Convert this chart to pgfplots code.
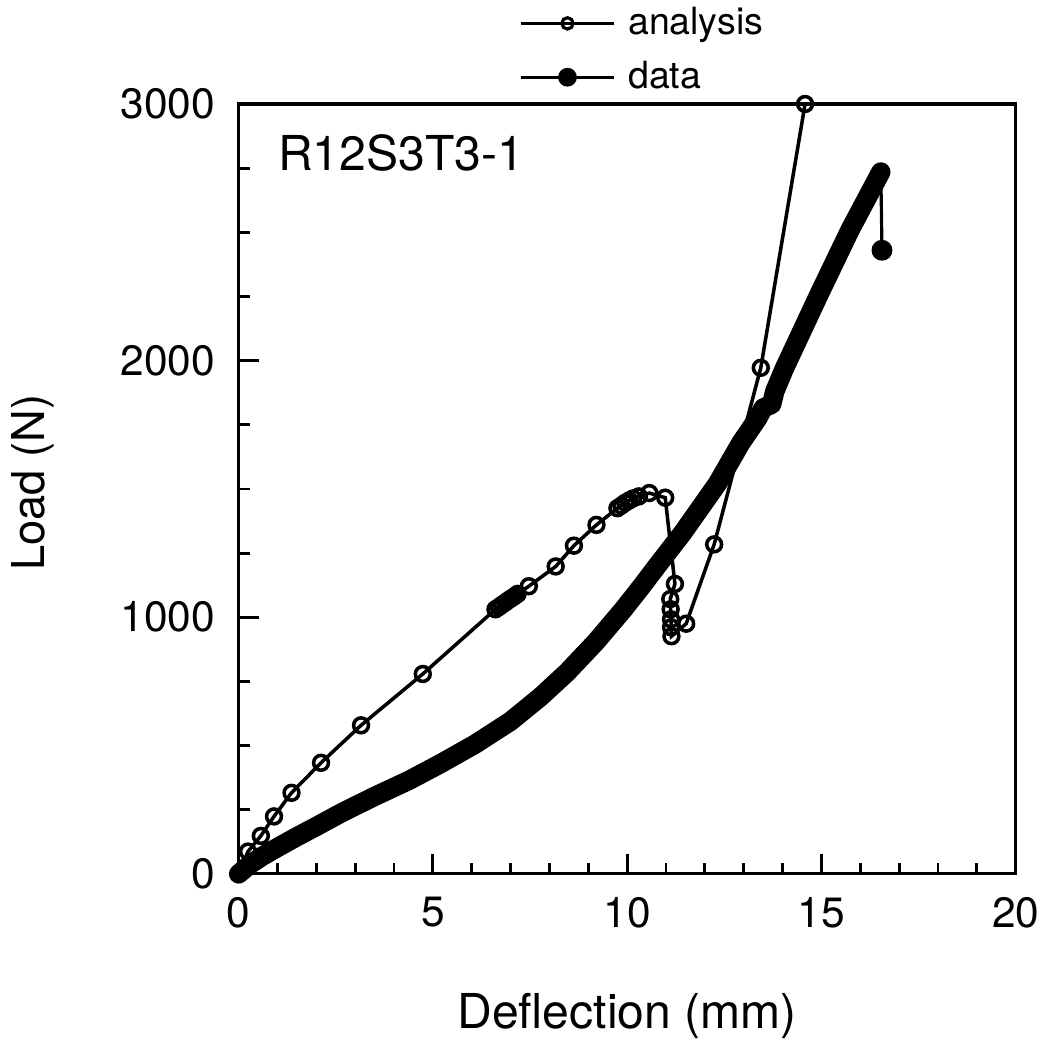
\documentclass[border=0pt]{standalone}
\usepackage{pgfplots}
\pgfplotsset{compat=1.18}
\usepackage{fontspec}
\setmainfont{TeX Gyre Heros}
\begin{document}
\begin{tikzpicture}
\begin{axis}[
  scale only axis, width=7.72cm, height=7.65cm,
  xmin=0, xmax=20, ymin=0, ymax=3000,
  xtick={0,5,10,15,20}, ytick={0,1000,2000,3000},
  minor x tick num=4, minor y tick num=3,
  tick align=inside, xtick pos=bottom, ytick pos=left,
  major tick length=0.2cm, minor tick length=0.11cm,
  every tick/.style={black, line width=0.8pt},
  axis line style={line width=0.9pt},
  /pgf/number format/assume math mode=true,
  /pgf/number format/1000 sep={},
  ticklabel style={font=\fontsize{12}{14}\selectfont},
  xticklabel style={yshift=-0.11cm},
  yticklabel style={xshift=-0.11cm},
  xlabel={Deflection (mm)}, ylabel={Load (N)},
  xlabel style={font=\fontsize{13.6}{16}\selectfont, at={(axis description cs:0.5,-0.201)}, anchor=base},
  ylabel style={font=\fontsize{12.8}{15}\selectfont, at={(axis description cs:-0.2646,0.508)}, anchor=center},
  legend cell align=left,
  legend style={at={(axis description cs:0.36,1.136)}, anchor=north west, draw=none, fill=none, font=\fontsize{10.6}{12.5}\selectfont, inner sep=0pt, row sep=2pt, column sep=1.5pt},
  legend image code/.code={\draw[mark repeat=2,mark phase=2,#1] plot coordinates {(0cm,0cm) (0.465cm,0cm) (0.93cm,0cm)};},
  clip=false,
]
\addlegendimage{black, line width=0.9pt, mark=o, mark size=1.6pt, mark options={line width=0.9pt, solid}}
\addlegendentry{analysis}
\addlegendimage{black, line width=0.9pt, mark=*, mark size=2.2pt}
\addlegendentry{data}

% data (dense measured points, drawn as thick band)
\addplot[black, line width=5.5pt, line cap=round, line join=round, forget plot] coordinates {
(0,0) (0.3,38) (0.6,68) (1,103) (1.5,145) (2,185) (2.67,240) (3.5,302) (4.39,365)
(5.2,430) (6.09,506) (7,595) (7.77,690) (8.45,785) (9.2,905) (9.9,1030) (10.4,1126)
(10.77,1200) (11.42,1327) (12.32,1520) (12.93,1680) (13.36,1775) (13.5,1815)
(13.72,1830) (13.8,1880) (14.04,1967) (14.93,2255) (15.74,2510) (16.53,2735)
};
\addplot[black, line width=0.9pt, mark=*, mark size=2.5pt, mark indices={2}, forget plot] coordinates {
(16.53,2735) (16.56,2430)
};

% analysis
\addplot[black, line width=1pt, mark=o, mark size=2.1pt, mark options={line width=1pt, solid}, forget plot] coordinates {
(0,0) (0.24,87) (0.57,148) (0.91,224) (1.36,316) (2.12,433) (3.15,579) (4.74,779)
(6.61,1031) (6.7,1040) (6.78,1049) (6.86,1057) (6.94,1066) (7.02,1074) (7.1,1082) (7.18,1091)
(7.47,1121) (8.16,1198) (8.63,1279) (9.21,1360)
(9.75,1425) (9.85,1435) (9.95,1446) (10.05,1455) (10.15,1463)
(10.3,1471) (10.57,1484) (10.98,1466) (11.23,1130)
(11.11,1071) (11.12,1031) (11.13,992) (11.13,961) (11.14,926)
(11.52,975) (12.24,1284) (13.44,1972) (14.58,3000)
};

\node[anchor=base west, inner sep=0pt, font=\fontsize{13.6}{16}\selectfont] at (axis cs:1.0,2742) {R12S3T3-1};
\end{axis}
\end{tikzpicture}
\end{document}
